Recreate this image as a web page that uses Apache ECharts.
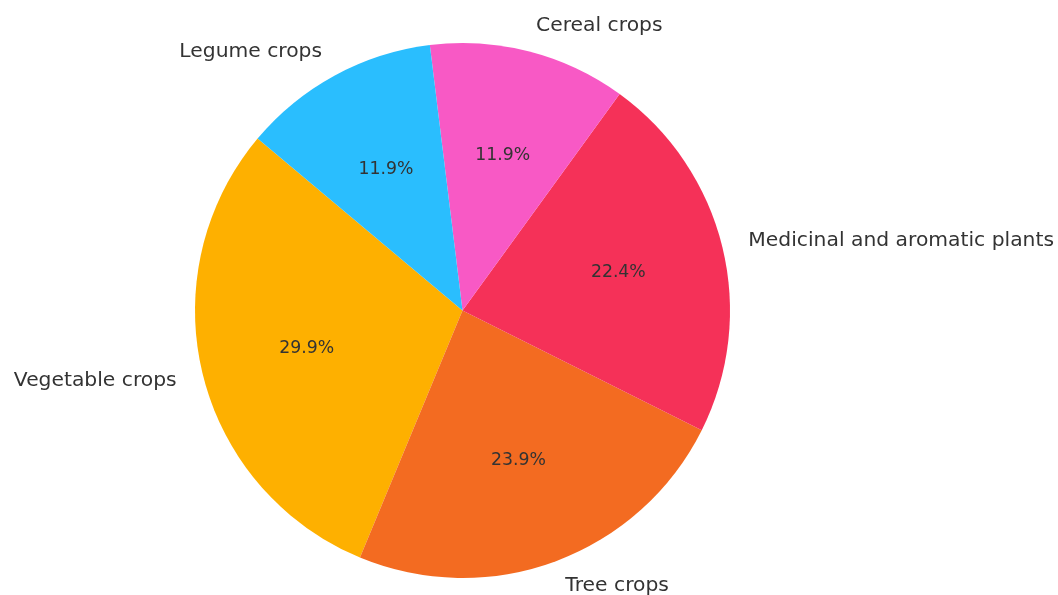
<!DOCTYPE html>
<html>
<head>
<meta charset="utf-8">
<script src="https://cdn.jsdelivr.net/npm/echarts@6/dist/echarts.min.js"></script>
<style>html,body{margin:0;padding:0;background:#fff;}#c{width:1058px;height:595px;}</style>
</head>
<body>
<div id="c"></div>
<script>
const categories = ['Vegetable crops', 'Tree crops', 'Medicinal and aromatic plants', 'Cereal crops', 'Legume crops'];
const values = [20, 16, 15, 8, 8];
const colors = ['#FEB000', '#F36B21', '#F53158', '#F859C5', '#2ABEFE'];

const R = 267.5;
const center = [462.5, 310.5];
const total = values.reduce((a, b) => a + b, 0);
const data = categories.map((n, i) => ({ name: n, value: values[i], itemStyle: { color: colors[i] } }));
const font = '"DejaVu Sans", sans-serif';

const chart = echarts.init(document.getElementById('c'), null, { renderer: 'canvas' });
chart.setOption({
  animation: false,
  series: [
    {
      type: 'pie',
      center: center,
      radius: [0, R],
      startAngle: 140,
      clockwise: false,
      avoidLabelOverlap: false,
      silent: true,
      itemStyle: { borderWidth: 0 },
      label: {
        show: true,
        position: 'outside',
        distanceToLabelLine: 0,
        color: '#333',
        fontFamily: font,
        fontSize: 20.3,
        formatter: '{b}'
      },
      labelLine: { show: false, length: R * 0.1, length2: 0 },
      data: data
    },
    {
      type: 'pie',
      center: center,
      radius: [0, R * 1.177],
      startAngle: 140,
      clockwise: false,
      avoidLabelOverlap: false,
      silent: true,
      z: 5,
      itemStyle: { color: 'rgba(0,0,0,0)', borderWidth: 0 },
      label: {
        show: true,
        position: 'inside',
        color: '#333',
        fontFamily: font,
        fontSize: 17.3,
        formatter: p => (p.value / total * 100).toFixed(1) + '%'
      },
      labelLine: { show: false },
      data: categories.map((n, i) => ({ name: n, value: values[i] }))
    }
  ]
});
</script>
</body>
</html>
